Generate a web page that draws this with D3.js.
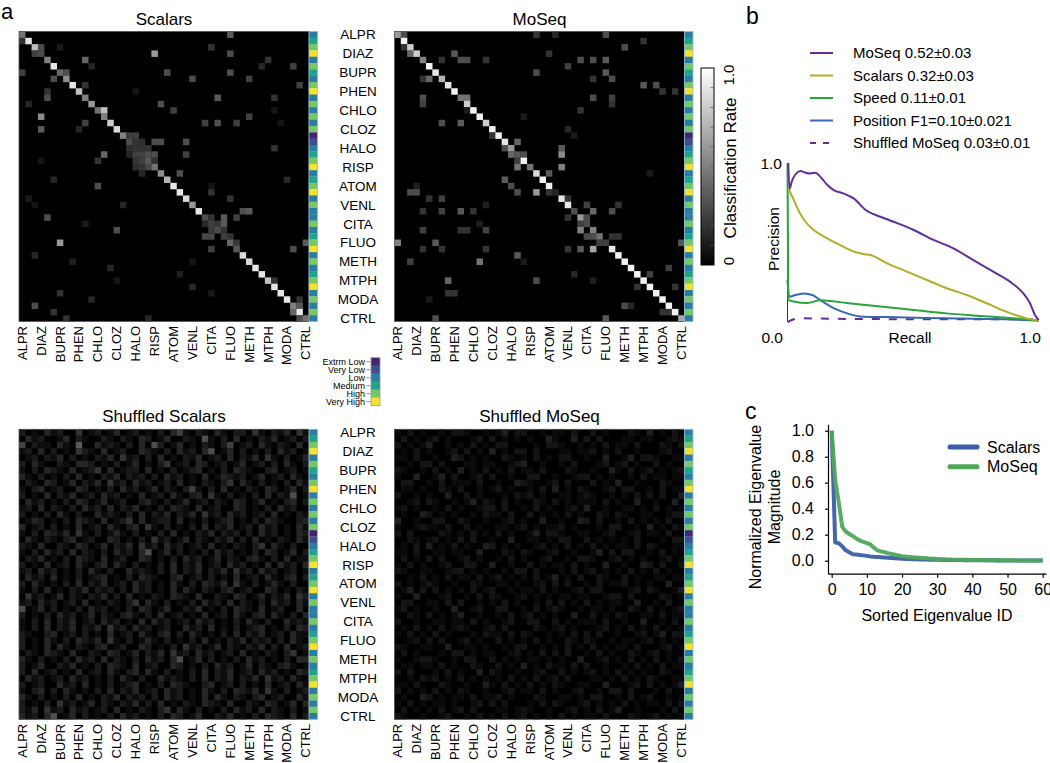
<!DOCTYPE html>
<html><head><meta charset="utf-8">
<script src="https://cdn.jsdelivr.net/npm/d3@7"></script>
<style>
body{margin:0;background:#fff}
text{font-family:"Liberation Sans",Arial,Helvetica,sans-serif;fill:#000}
</style></head>
<body><svg id="fig" width="1050" height="763"></svg>
<script>
// ---------------- DATA ----------------
const drugs = ["ALPR","DIAZ","BUPR","PHEN","CHLO","CLOZ","HALO","RISP","ATOM","VENL","CITA","FLUO","METH","MTPH","MODA","CTRL"];
const doseLevels = ["Extrm Low","Very Low","Low","Medium","High","Very High"];
const doseColors = ["#46236e","#3c4f8e","#2a7ca3","#1fa38a","#77c864","#f7e12a"];
// dose category of each of the 46 drug-dose rows
const rowDose = [2,3,4,5,2,4,3,2,4,5,2,4,2,4,2,4,0,1,2,3,4,5,
                 2,3,4,5,2,4,2,2,4,2,3,4,5,2,4,2,3,4,5,2,4,2,4,2];

const scalarsDiag = [.45,.9,.75,.3,.5,.9,.4,.55,.9,.75, .5,.6,.45,.5,.8,.85,.5,.3,.2,.25,
                     .35,.45,.55,.7,.9,.9,.85,.6,.9,.3, .25,.3,.25,.4,.35,.85,.85,.9,.9,.75,
                     .9,.9,.9,.5,.9,.45];
const scalarsOff = [[0,33,.35],[3,21,.6],[4,10,.4],[13,3,.55],[15,3,.35],[33,6,.6],[29,4,.3],[43,2,.3],
 [7,27,.3],[6,23,.3],[6,33,.3],[10,31,.35],[11,22,.3],[12,13,.75],[12,24,.25],[13,36,.25],[14,29,.25],
 [14,31,.3],[14,34,.25],[19,13,.4],[17,26,.3],[19,26,.25],[17,21,.3],[19,21,.3],[18,20,.2],[16,18,.25],
 [22,25,.3],[24,12,.3],[28,36,.35],[29,32,.35],[31,15,.3],[33,45,.35],[34,43,.3],[34,30,.25],[32,29,.28],
 [32,30,.28],[43,44,.35],[3,2,.25],[2,3,.3],[6,7,.3],[7,5,.3],[6,0,.25],[10,4,.3],[14,10,.25],[16,17,.25],
 [17,18,.2],[17,19,.18],[18,17,.18],[18,19,.2],[19,17,.15],[19,18,.25],[19,20,.3],[20,18,.2],[20,19,.25],
 [20,21,.2],[21,18,.18],[21,19,.2],[21,20,.28],[22,19,.15],[17,22,.3],[30,32,.35],[28,35,.3],[29,34,.25],
 [30,31,.22],[31,30,.22],[31,32,.2],[33,34,.22],[32,33,.2],[30,29,.15],[29,30,.2],[44,43,.4],[45,44,.3],
 [42,44,.2],[1,0,.2],[2,6,.1],[5,11,.15],[8,10,.2],[9,4,.2],[11,1,.15],[15,9,.15],[20,12,.2],[23,5,.15],
 [26,1,.1],[27,16,.15],[35,2,.15],[36,8,.12],[37,14,.15],[38,25,.12],[39,40,.2],[40,27,.15],[41,6,.2],
 [42,11,.15],[44,5,.2],[45,7,.2],[45,20,.15],[25,30,.2],[26,33,.2],[23,42,.15],[18,40,.2],[10,40,.2],
 [4,39,.2],[5,43,.25],[8,44,.25],[7,36,.25],[2,30,.2],[3,33,.3],[5,38,.15],[12,40,.08],[20,3,.08],
 [24,30,.08],[27,2,.08],[30,10,.1],[36,27,.08],[39,15,.08],[41,30,.1],[9,18,.08],[14,41,.08]];

const moseqDiag = [.6,.95,.8,.8,.5,.95,.9,.7,.9,.95, .45,.8,.95,.95,.8,.95,.95,.9,.6,.35,
                   .95,.45,.85,.95,.95,.15,.9,.9,.3,.6, .3,.5,.45,.25,.9,.95,.95,.95,.95,.95,
                   .95,.95,.95,.95,.95,.65];
const moseqOff = [[0,1,.3],[0,22,.2],[0,25,.15],[0,33,.3],[1,39,.2],[2,36,.3],[3,2,.4],[3,9,.35],[3,24,.2],
 [4,7,.2],[4,10,.3],[4,11,.3],[4,14,.2],[4,29,.3],[4,31,.3],[4,33,.35],[5,27,.25],[6,22,.3],[6,33,.35],
 [7,4,.2],[7,5,.4],[7,31,.2],[7,34,.3],[8,39,.35],[8,41,.3],[9,42,.2],[9,44,.2],[10,4,.3],[10,11,.45],
 [10,31,.3],[10,34,.25],[11,4,.25],[11,34,.2],[12,29,.2],[14,7,.3],[14,10,.35],[16,15,.2],[15,27,.15],
 [18,17,.3],[17,19,.4],[18,26,.35],[19,18,.4],[19,20,.3],[19,26,.55],[21,19,.45],[21,26,.5],[22,24,.35],
 [23,17,.35],[24,18,.3],[25,22,.6],[25,19,.3],[25,2,.3],[25,3,.3],[25,24,.2],[26,5,.2],[26,7,.25],
 [27,30,.25],[27,35,.2],[28,4,.2],[28,7,.25],[28,10,.35],[28,12,.2],[29,27,.2],[28,31,.4],[28,34,.3],
 [31,29,.5],[32,30,.3],[32,31,.3],[32,34,.2],[32,35,.2],[31,4,.25],[31,10,.2],[31,11,.2],[31,14,.25],
 [33,0,.5],[33,6,.35],[33,45,.35],[34,31,.65],[34,29,.35],[34,27,.2],[34,4,.2],[34,7,.2],[34,14,.2],
 [35,19,.35],[36,2,.25],[36,13,.45],[37,43,.25],[38,28,.15],[39,8,.4],[39,22,.3],[38,40,.25],[40,38,.2],
 [40,44,.2],[41,8,.2],[41,9,.2],[43,36,.3],[43,37,.15],[44,42,.2],[44,43,.2],[45,6,.3],[45,33,.35],
 [30,29,.25],[29,30,.3],[33,32,.25],[2,1,.2],[20,19,.25],[26,27,.2],[12,11,.1],[13,20,.1],[16,28,.1],
 [22,40,.1],[24,3,.12],[30,13,.12],[36,20,.1],[42,5,.1],[39,31,.12],[27,14,.12]];

// shuffled matrices: one string per row, one digit per cell (intensity level)
const shuffledScalarsRows = [
"20103 12004 01201 30120 10203 51021 03102 20410 21304 1","03120 01302 10021 02103 20130 02106 10203 01021 30120 2",
"50211 03107 00312 10203 06201 30102 10250 12031 02103 0","12030 20104 21030 12003 21020 31203 60130 20102 03120 1",
"01202 13020 10213 04120 20301 02130 12030 21304 10201 3","20310 02103 32010 20130 10240 12032 01201 30120 20310 2",
"10203 21030 12403 01220 30102 01230 10203 21002 30120 1","31020 10203 01021 30212 02031 20103 01321 20130 12031 0",
"02103 20130 21304 12031 20120 30102 10240 31020 10203 1","10230 12003 20102 03120 13021 02510 20301 02103 20130 2",
"20103 02130 12031 20103 01203 10230 41020 10203 02160 1","03120 10203 20130 12002 31020 13012 02103 20130 10230 2",
"12030 21020 31203 02130 10203 21030 12003 20102 03120 0","20102 03102 00312 10203 02130 21304 12031 20120 30102 1",
"01320 10203 21030 12403 01220 30102 01230 10203 21002 3","30120 20103 01203 10230 41020 10203 02130 12031 20103 1",
"10203 21304 10201 31020 10203 01021 30212 02031 20103 2","03102 10230 12003 20102 04120 13021 02130 20301 02103 1",
"21030 02103 20130 21304 12031 20120 30102 10240 31020 0","10203 12030 21020 31203 60130 20102 03120 10203 20130 2",
"02130 10203 21030 12003 20102 03120 13021 02310 20301 1","20103 01203 10230 31020 10203 02130 12031 20103 03120 3",
"12031 20102 03102 00312 10203 02130 21304 12031 20120 1","03120 30102 01230 10203 21002 30120 20103 01203 10230 2",
"20310 10203 02130 12031 20103 10203 21304 10201 31020 0","10203 01021 30212 02031 20103 03102 10230 12003 20102 1",
"04120 13021 02130 20301 02103 21030 02103 20130 21304 2","12031 20120 30102 10240 31020 10203 12030 21020 31203 1",
"60130 20102 03120 10203 20130 02130 10203 21030 12003 0","20102 03120 13021 02310 20301 20103 01203 10230 31020 3",
"10203 02130 12031 20103 03120 12031 20102 03102 00312 1","10203 02130 21304 12031 20120 03120 30102 01230 10203 2",
"21002 30120 20103 01203 10230 20310 10203 02130 12031 1","20103 10203 21304 10201 31020 10203 01021 30212 02031 0",
"20103 03102 10230 12003 20102 04120 13021 02130 20301 2","02103 21030 02103 20130 21304 12031 20120 30102 10240 1",
"31020 10203 12030 21020 31203 60130 20102 03120 10203 3","20130 02130 10203 21030 12003 20102 03120 13021 02310 1",
"20301 20103 01203 10230 31020 10203 02130 12031 20103 2","03120 12031 20102 03102 00312 10203 02130 21304 12031 0",
"20120 03120 30102 01230 10203 21002 30120 20103 01203 1","10230 20310 10203 02130 12031 20103 10203 21304 10201 2",
"31020 10203 01021 30212 02031 20103 03102 10230 12003 1","20102 04120 13021 02130 20301 02103 21030 02103 20130 3",
"21304 12031 20120 30102 10240 31020 10203 12030 21020 1","31203 60130 20102 03120 10203 20130 02130 10203 21030 2"];
const shuffledMoseqRows = [
"10201 00102 21001 01302 20010 11020 02010 00210 30102 0","02010 12010 00120 20101 01003 10030 20200 01101 10012 1",
"20101 30010 10201 02200 00102 21001 01020 11020 00210 2","01020 10012 02010 30102 20200 01101 12010 20010 00120 0",
"11020 01003 20101 00210 10201 02200 10030 01302 21001 1","00102 20200 01101 10012 30010 01020 00120 12010 02010 0",
"21001 02010 30102 01020 11020 00210 01003 10201 20101 2","10030 01302 00120 20010 02200 10012 20101 00102 01101 1",
"02200 10201 11020 01003 21001 20200 02010 30010 00210 0","01101 00210 20010 12010 01020 30102 10012 02200 10201 1",
"20010 10030 02010 00102 12010 01101 21001 01020 20200 3","00120 21001 01302 10201 00210 20101 11020 10030 01003 0",
"12010 01020 10012 20200 10201 00120 30010 01101 02010 1","01003 20101 00102 11020 02010 10201 00210 21001 10012 2",
"30010 02200 21001 00120 10030 01003 20200 10201 01020 0","10012 11020 02010 01101 20101 12010 00102 20010 30102 1",
"20200 00210 10201 02010 01302 21001 10012 00120 11020 0","00210 12010 20200 10030 01101 02200 20101 01020 00102 2",
"01020 30102 01003 20101 00120 10201 02010 11020 21001 1","11020 01101 10030 00210 21001 20010 01302 02200 10201 0",
"02010 20200 12010 01020 10012 00102 21001 20101 00120 1","10201 00120 02200 30010 02010 11020 10030 01003 20200 2",
"21001 10012 20101 00102 20200 01020 12010 10201 02010 0","00102 01020 11020 12010 10201 30102 00210 02010 01101 1",
"20101 21001 00210 01101 00120 20200 10201 12010 10030 0","01302 02010 10201 20010 11020 10012 02200 00120 21001 3",
"10030 00120 01020 21001 20101 01101 10012 20200 00210 1","02200 11020 20010 10201 00102 02010 20101 10030 01020 0",
"12010 01003 00120 02200 10201 21001 01101 00210 20101 2","00210 20101 30010 01020 12010 10030 02010 21001 10201 1",
"20010 01101 10201 00120 02200 20101 11020 01003 00102 0","01020 10201 21001 20200 00210 12010 00120 10201 02010 1",
"10201 02010 00102 11020 21001 01020 20200 10012 01302 2","00120 20200 12010 02010 10201 00210 21001 01101 20101 0",
"21001 10030 01101 00102 20010 10201 02010 11020 00120 1","02010 00102 20101 10012 01020 20200 10201 00210 12010 0",
"10012 21001 02200 20101 01101 01003 00120 10201 02010 2","01101 10201 00210 02010 30102 11020 20010 01020 10201 1",
"20200 01020 10030 21001 00120 02010 12010 20101 00210 0","00102 12010 20101 01020 10201 20200 01101 02010 21001 1",
"11020 00210 01003 10201 02010 21001 10030 00120 20101 3","20101 02010 21001 00120 11020 10012 00102 20200 01020 0",
"01003 20101 10201 12010 00210 01101 02200 10201 20010 1","10201 01101 00120 20200 01020 21001 20101 02010 11020 2",
"02010 10201 20200 01101 21001 00120 10201 30010 00102 0","21001 00120 01020 10201 20101 02010 11020 00210 12010 1"];

// panel b: precision-recall curves, [recall, precision]
const moseqPR = [[0.003,1.0],[0.008,0.84],[0.018,0.89],[0.032,0.93],[0.051,0.95],[0.071,0.94],[0.091,0.935],
 [0.111,0.94],[0.13,0.915],[0.157,0.865],[0.183,0.832],[0.223,0.81],[0.262,0.78],[0.308,0.71],[0.368,0.666],
 [0.42,0.635],[0.5,0.584],[0.578,0.522],[0.657,0.47],[0.736,0.397],[0.815,0.325],[0.881,0.263],[0.934,0.19],
 [0.96,0.13],[0.98,0.056],[0.995,0.025]];
const scalarsPR = [[0.004,0.84],[0.025,0.77],[0.045,0.70],[0.071,0.635],[0.104,0.584],[0.157,0.532],[0.209,0.49],
 [0.262,0.45],[0.3,0.435],[0.328,0.428],[0.394,0.377],[0.473,0.325],[0.552,0.273],[0.631,0.222],[0.71,0.18],
 [0.789,0.129],[0.868,0.076],[0.947,0.035],[0.995,0.022]];
const speedPR = [[0.0,1.0],[0.003,0.15],[0.025,0.14],[0.078,0.13],[0.13,0.148],[0.236,0.13],[0.368,0.108],
 [0.5,0.087],[0.63,0.066],[0.763,0.05],[0.894,0.035],[0.995,0.022]];
const positionPR = [[0.0,0.273],[0.006,0.17],[0.032,0.18],[0.065,0.19],[0.098,0.18],[0.13,0.149],[0.183,0.098],
 [0.236,0.066],[0.302,0.045],[0.434,0.042],[0.63,0.035],[0.89,0.028],[0.995,0.022]];
const shuffledPR = [[0.0,0.012],[0.025,0.029],[0.051,0.035],[0.2,0.032],[0.5,0.03],[0.8,0.03],[0.995,0.029]];
const prLabels = ["MoSeq 0.52\u00b10.03","Scalars 0.32\u00b10.03","Speed 0.11\u00b10.01","Position F1=0.10\u00b10.021","Shuffled MoSeq 0.03\u00b10.01"];

// panel c: normalized eigenvalue spectra, index = sorted eigenvalue ID (0..60)
const scalarsEig = [1.0,0.14,0.135,0.11,0.08,0.065,0.05,0.047,0.044,0.041,0.037,0.033,0.03,0.028,0.026,0.024,
 0.022,0.02,0.018,0.016,0.015,0.014,0.013,0.012,0.011,0.01,0.009,0.009,0.008,0.008,0.007,0.007,0.006,0.006,
 0.006,0.005,0.005,0.005,0.004,0.004,0.004,0.004,0.003,0.003,0.003,0.003,0.003,0.002,0.002,0.002,0.002,0.002,
 0.002,0.002,0.001,0.001,0.001,0.001,0.001,0.001,0.001];
const moseqEig = [1.0,0.62,0.45,0.26,0.225,0.205,0.19,0.17,0.155,0.145,0.135,0.125,0.1,0.08,0.072,0.066,0.058,
 0.052,0.046,0.04,0.035,0.032,0.029,0.026,0.024,0.022,0.02,0.018,0.016,0.015,0.013,0.012,0.011,0.01,0.009,0.008,
 0.008,0.007,0.007,0.006,0.006,0.005,0.005,0.005,0.004,0.004,0.004,0.004,0.003,0.003,0.003,0.003,0.003,0.002,
 0.002,0.002,0.002,0.002,0.002,0.002,0.002];
const eigLabels = ["Scalars","MoSeq"];

// ---------------- DRAW ----------------
const svg = d3.select("#fig");
const N = rowDose.length, MS = 290;
const FONT = 13;

function fullMatrix(diag, off){
  const m = d3.range(N).map(()=>new Array(N).fill(0));
  diag.forEach((v,i)=>m[i][i]=v);
  off.forEach(([r,c,v])=>m[r][c]=v);
  return m;
}
function digitMatrix(rows, k){
  return rows.map(s=>{const t=s.replace(/\s/g,''); return d3.range(N).map(c=>(+t[c]||0)*k);});
}
const gray = v => {const g=Math.round(Math.max(0,Math.min(1,v))*255); return d3.rgb(g,g,g).toString();};

function drawMatrix(x0, y0, m, title){
  const g = svg.append("g");
  const xb = d3.scaleBand().domain(d3.range(N)).range([x0, x0+MS]);
  const yb = d3.scaleBand().domain(d3.range(N)).range([y0, y0+MS]);
  g.append("rect").attr("x",x0).attr("y",y0).attr("width",MS).attr("height",MS).attr("fill","#000");
  const cells = [];
  m.forEach((row,r)=>row.forEach((v,c)=>{ if(v>0) cells.push({r,c,v}); }));
  g.selectAll("rect.cell").data(cells).join("rect").attr("class","cell")
    .attr("x",d=>xb(d.c)).attr("y",d=>yb(d.r))
    .attr("width",xb.bandwidth()+0.2).attr("height",yb.bandwidth()+0.2)
    .attr("fill",d=>gray(d.v));
  g.append("rect").attr("x",x0).attr("y",y0).attr("width",MS).attr("height",MS)
    .attr("fill","none").attr("stroke","#555").attr("stroke-width",0.8);
  // dose strip
  const sx = x0+MS, sw = 8.5;
  g.selectAll("rect.dose").data(rowDose).join("rect").attr("class","dose")
    .attr("x",sx).attr("y",(d,i)=>yb(i)).attr("width",sw).attr("height",yb.bandwidth()+0.2)
    .attr("fill",d=>doseColors[d]);
  g.append("rect").attr("x",sx).attr("y",y0).attr("width",sw).attr("height",MS)
    .attr("fill","none").attr("stroke","#8fc1dc").attr("stroke-width",0.8);
  // column labels
  g.selectAll("text.xl").data(drugs).join("text").attr("class","xl")
    .attr("transform",(d,i)=>`translate(${xb(i*3)+xb.bandwidth()/2},${y0+MS+4.5}) rotate(-90)`)
    .attr("text-anchor","end").attr("dy","0.35em").style("font-size",FONT+"px").text(d=>d);
  // title
  g.append("text").attr("x",x0+MS/2).attr("y",y0-7).attr("text-anchor","middle")
    .style("font-size","17px").text(title);
  return yb;
}

const scalarsM = fullMatrix(scalarsDiag, scalarsOff);
const moseqM = fullMatrix(moseqDiag, moseqOff);
const shufS = digitMatrix(shuffledScalarsRows, 0.05);
const shufM = digitMatrix(shuffledMoseqRows, 0.04);

const X1 = 19, X2 = 394.5, Y1 = 31.5, Y2 = 429.3;
const yb1 = drawMatrix(X1, Y1, scalarsM, "Scalars");
drawMatrix(X2, Y1, moseqM, "MoSeq");
const yb2 = drawMatrix(X1, Y2, shufS, "Shuffled Scalars");
drawMatrix(X2, Y2, shufM, "Shuffled MoSeq");

// row labels in the middle
[yb1, yb2].forEach(yb=>{
  svg.append("g").selectAll("text").data(drugs).join("text")
    .attr("x",358).attr("y",(d,i)=>yb(i*3)+yb.bandwidth()/2).attr("dy","0.35em")
    .attr("text-anchor","middle").style("font-size","13.5px").text(d=>d);
});

// dose legend
{
  const ly = d3.scaleBand().domain(doseLevels).range([357.7, 405.7]);
  const g = svg.append("g");
  g.selectAll("rect").data(doseLevels).join("rect")
    .attr("x",371).attr("y",d=>ly(d)).attr("width",9).attr("height",ly.bandwidth()+0.2)
    .attr("fill",(d,i)=>doseColors[i]);
  g.append("rect").attr("x",371).attr("y",357.7).attr("width",9).attr("height",48)
    .attr("fill","none").attr("stroke","#999").attr("stroke-width",0.8);
  g.selectAll("line").data(doseLevels).join("line")
    .attr("x1",366.5).attr("x2",370.5).attr("y1",d=>ly(d)+ly.bandwidth()/2).attr("y2",d=>ly(d)+ly.bandwidth()/2)
    .attr("stroke","#777").attr("stroke-width",0.8);
  g.selectAll("text").data(doseLevels).join("text")
    .attr("x",365).attr("y",d=>ly(d)+ly.bandwidth()/2).attr("dy","0.35em").attr("text-anchor","end")
    .style("font-size","9px").text(d=>d);
}

// classification-rate colorbar
{
  const defs = svg.append("defs");
  const lg = defs.append("linearGradient").attr("id","gbar").attr("x1",0).attr("x2",0).attr("y1",1).attr("y2",0);
  lg.append("stop").attr("offset","0%").attr("stop-color","#000");
  lg.append("stop").attr("offset","100%").attr("stop-color","#fff");
  const cy = d3.scaleLinear().domain([0,1]).range([265,68]);
  const g = svg.append("g");
  g.append("rect").attr("x",701).attr("y",68).attr("width",13).attr("height",197)
    .attr("fill","url(#gbar)").attr("stroke","#000").attr("stroke-width",1);
  g.selectAll("line").data(d3.range(1,10).map(i=>i/10)).join("line")
    .attr("x1",710.5).attr("x2",714).attr("y1",d=>cy(d)).attr("y2",d=>cy(d))
    .attr("stroke","#555").attr("stroke-width",0.8);
  [[1,"1.0"],[0,"0"]].forEach(([v,t])=>{
    g.append("text").attr("transform",`translate(734,${cy(v)+(v?7:-4)}) rotate(-90)`)
      .attr("text-anchor","middle").style("font-size","15px").text(t);
  });
  g.append("text").attr("transform",`translate(736,168) rotate(-90)`).attr("text-anchor","middle")
    .style("font-size","17px").text("Classification Rate");
}

// panel letters
svg.append("text").attr("x",1).attr("y",19).style("font-size","22px").text("a");
svg.append("text").attr("x",746).attr("y",23.5).style("font-size","23px").text("b");
svg.append("text").attr("x",745).attr("y",419).style("font-size","23px").text("c");

// ---------------- panel b ----------------
{
  const xs = d3.scaleLinear().domain([0,1]).range([787.5,1040]);
  const ys = d3.scaleLinear().domain([0,1]).range([324,163]);
  const cols = ["#612d9b","#b3ad2a","#2aa53a","#3a67b5","#612d9b"];
  const series = [moseqPR, scalarsPR, speedPR, positionPR, shuffledPR];
  const g = svg.append("g");
  g.append("line").attr("x1",xs(0)).attr("x2",xs(0)).attr("y1",ys(1)).attr("y2",ys(0)-2)
    .attr("stroke","#333").attr("stroke-width",1);
  const line = d3.line().x(d=>xs(d[0])).y(d=>ys(d[1])).curve(d3.curveMonotoneX);
  const order = [4,3,2,1,0];
  order.forEach(i=>{
    g.append("path").attr("d",line(series[i])).attr("fill","none").attr("stroke",cols[i])
      .attr("stroke-width",2).attr("stroke-dasharray",i===4?"8,9":null);
  });
  // legend
  const ly = d3.scalePoint().domain(d3.range(prLabels.length)).range([53,143]);
  prLabels.forEach((t,i)=>{
    g.append("line").attr("x1",810).attr("x2",833).attr("y1",ly(i)).attr("y2",ly(i))
      .attr("stroke",cols[i]).attr("stroke-width",2).attr("stroke-dasharray",i===4?"6,7":null);
    g.append("text").attr("x",853).attr("y",ly(i)).attr("dy","0.36em").style("font-size","15px").text(t);
  });
  g.append("text").attr("x",782).attr("y",ys(1)).attr("dy","0.36em").attr("text-anchor","end").style("font-size","15.5px").text("1.0");
  g.append("text").attr("x",783).attr("y",343).attr("text-anchor","end").style("font-size","15.5px").text("0.0");
  g.append("text").attr("x",1041).attr("y",343).attr("text-anchor","end").style("font-size","15.5px").text("1.0");
  g.append("text").attr("x",910).attr("y",343).attr("text-anchor","middle").style("font-size","15.5px").text("Recall");
  g.append("text").attr("transform","translate(778.5,239) rotate(-90)").attr("text-anchor","middle")
    .style("font-size","15.5px").text("Precision");
}

// ---------------- panel c ----------------
{
  const xs = d3.scaleLinear().domain([-1.05,61]).range([828,1046.2]);
  const ys = d3.scaleLinear().domain([-0.1,1.05]).range([573.7,424.2]);
  const g = svg.append("g");
  const ax = g.append("g").attr("transform","translate(828,0)")
    .call(d3.axisLeft(ys).tickValues([0,0.2,0.4,0.6,0.8,1.0]).tickFormat(d3.format(".1f")).tickSize(3).tickSizeOuter(0).tickPadding(11));
  const bx = g.append("g").attr("transform","translate(0,573.7)")
    .call(d3.axisBottom(xs).tickValues([0,10,20,30,40,50,60]).tickSize(4).tickSizeOuter(0).tickPadding(6));
  [ax,bx].forEach(a=>{
    a.selectAll("text").style("font-size","16px").style("font-family","'Liberation Sans',Arial,sans-serif").attr("fill","#000");
    a.selectAll("line,path").attr("stroke","#000").attr("stroke-width",1.2);
  });
  const cols = ["#3c5ea8","#4fa65a"];
  const line = d3.line().x((d,i)=>xs(i)).y(d=>ys(d));
  [scalarsEig, moseqEig].forEach((s,k)=>{
    g.append("path").attr("d",line(s)).attr("fill","none").attr("stroke",cols[k])
      .attr("stroke-width",4).attr("stroke-linejoin","round").attr("opacity",0.95);
  });
  eigLabels.forEach((t,k)=>{
    const y = 447 + k*19.7;
    g.append("line").attr("x1",950).attr("x2",977).attr("y1",y).attr("y2",y)
      .attr("stroke",cols[k]).attr("stroke-width",5).attr("stroke-linecap","round");
    g.append("text").attr("x",987).attr("y",y).attr("dy","0.36em").style("font-size","16px").text(t);
  });
  g.append("text").attr("transform","translate(761,507) rotate(-90)").attr("text-anchor","middle")
    .style("font-size","16px").text("Normalized Eigenvalue");
  g.append("text").attr("transform","translate(780,507) rotate(-90)").attr("text-anchor","middle")
    .style("font-size","16px").text("Magnitude");
  g.append("text").attr("x",937).attr("y",621).attr("text-anchor","middle")
    .style("font-size","16px").text("Sorted Eigenvalue ID");
}
</script></body></html>
